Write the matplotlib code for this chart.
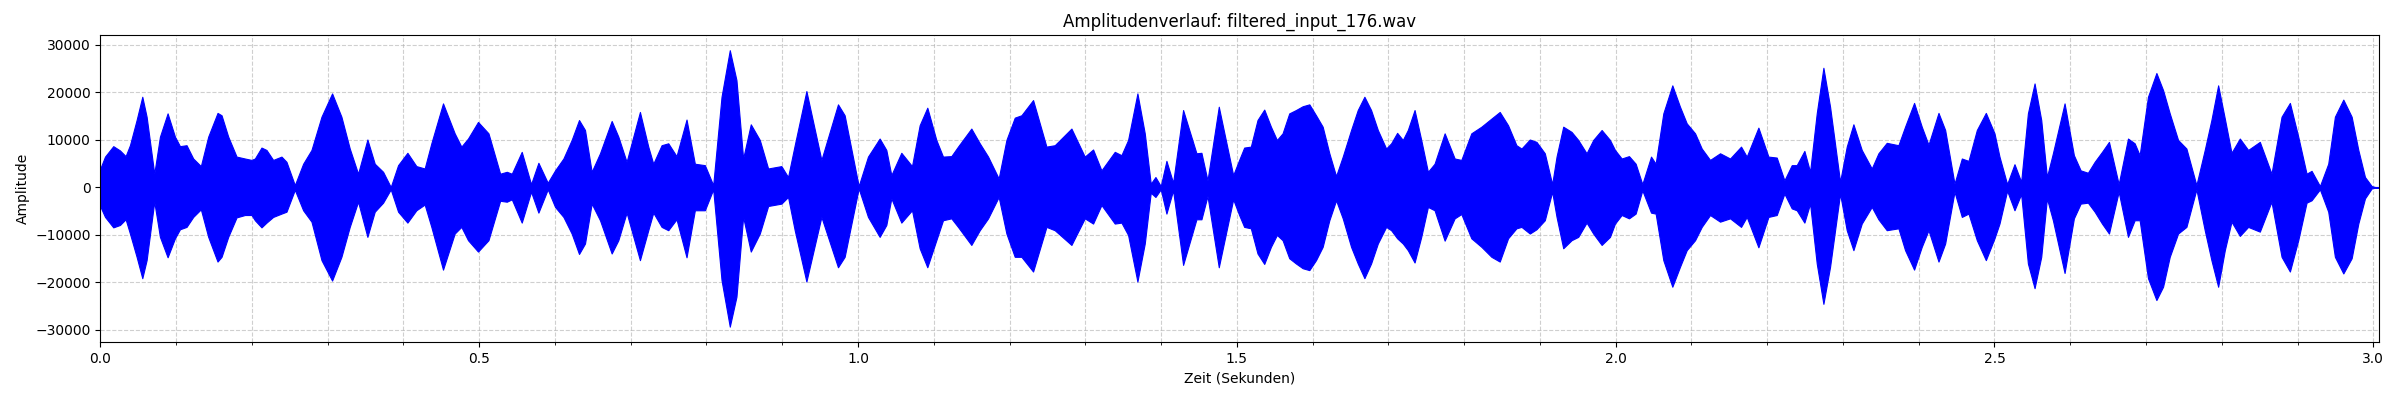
import matplotlib
matplotlib.use("Agg")
import matplotlib.pyplot as plt
from matplotlib.ticker import MultipleLocator

# Envelope of the waveform (time in seconds, amplitude)
time_s = [
    0.0000, 0.0062, 0.0171, 0.0259, 0.0334, 0.0391, 0.0479, 0.0554, 0.0611, 0.0712,
    0.0787, 0.0888, 0.0985, 0.1051, 0.1138, 0.1226, 0.1327, 0.1424, 0.1547, 0.1600,
    0.1688, 0.1798, 0.1908, 0.1996, 0.2040, 0.2127, 0.2193, 0.2281, 0.2391, 0.2457,
    0.2567, 0.2677, 0.2787, 0.2919, 0.3059, 0.3182, 0.3292, 0.3402, 0.3525, 0.3622,
    0.3732, 0.3833, 0.3930, 0.4053, 0.4171, 0.4281, 0.4369, 0.4523, 0.4677, 0.4765,
    0.4853, 0.4985,
    0.5123, 0.5277, 0.5365, 0.5431, 0.5562, 0.5685, 0.5782, 0.5905, 0.6002, 0.6112,
    0.6221, 0.6318, 0.6397, 0.6485, 0.6595, 0.6749, 0.6837, 0.6946, 0.7122, 0.7232,
    0.7298, 0.7408, 0.7496, 0.7605, 0.7737, 0.7847, 0.7979, 0.8089, 0.8199, 0.8308,
    0.8396, 0.8484, 0.8585, 0.8704, 0.8814, 0.8989, 0.9077, 0.9165, 0.9319, 0.9517,
    0.9736, 0.9824,
    1.0009, 1.0132, 1.0286, 1.0374, 1.0440, 1.0572, 1.0713, 1.0814, 1.0915, 1.1034,
    1.1122, 1.1232, 1.1320, 1.1496, 1.1607, 1.1717, 1.1857, 1.1959, 1.2069, 1.2157,
    1.2311, 1.2487, 1.2597, 1.2817, 1.2993, 1.3103, 1.3213, 1.3389, 1.3477, 1.3565,
    1.3688, 1.3785, 1.3864, 1.3926, 1.3996, 1.4071, 1.4159, 1.4291, 1.4467, 1.4533,
    1.4613, 1.4762, 1.4952,
    1.5031, 1.5097, 1.5185, 1.5273, 1.5362, 1.5450, 1.5529, 1.5604, 1.5692, 1.5780,
    1.5869, 1.5957, 1.6045, 1.6133, 1.6221, 1.6310, 1.6398, 1.6508, 1.6596, 1.6684,
    1.6772, 1.6861, 1.6971, 1.7037, 1.7116, 1.7191, 1.7257, 1.7346, 1.7434, 1.7522,
    1.7610, 1.7743, 1.7875, 1.7963, 1.8095, 1.8228, 1.8360, 1.8470, 1.8580, 1.8690,
    1.8757, 1.8867, 1.8955, 1.9065, 1.9162, 1.9220, 1.9308, 1.9418, 1.9506, 1.9616,
    1.9704, 1.9815, 1.9925,
    1.9991, 2.0079, 2.0176, 2.0264, 2.0352, 2.0467, 2.0528, 2.0629, 2.0748, 2.0849,
    2.0938, 2.1048, 2.1136, 2.1246, 2.1378, 2.1510, 2.1655, 2.1730, 2.1884, 2.2016,
    2.2126, 2.2227, 2.2324, 2.2390, 2.2491, 2.2566, 2.2654, 2.2742, 2.2830, 2.2962,
    2.3050, 2.3138, 2.3248, 2.3380, 2.3468, 2.3578, 2.3732, 2.3820, 2.3939, 2.4040,
    2.4129, 2.4261, 2.4349, 2.4472, 2.4569, 2.4657, 2.4767, 2.4886,
    2.5000, 2.5066, 2.5167, 2.5264, 2.5352, 2.5441, 2.5529, 2.5617, 2.5692, 2.5771,
    2.5925, 2.6048, 2.6137, 2.6233, 2.6322, 2.6419, 2.6511, 2.6639, 2.6762, 2.6850,
    2.6916, 2.7026, 2.7137, 2.7225, 2.7313, 2.7423, 2.7533, 2.7665, 2.7775, 2.7863,
    2.7952, 2.8040, 2.8128, 2.8238, 2.8348, 2.8502, 2.8656, 2.8789, 2.8899, 2.9009,
    2.9119, 2.9185, 2.9295, 2.9405, 2.9493, 2.9604, 2.9714, 2.9802, 2.9890, 2.9978,
    3.0044, 3.0075,
]

upper = [
    4000, 6500, 8700, 7800, 6600, 8900, 14200, 19100, 14900, 2900,
    10700, 15600, 10700, 8700, 8900, 6100, 4500, 10700, 15700, 15200,
    10700, 6500, 6100, 5800, 6100, 8400, 7900, 5800, 6500, 5400,
    500, 5000, 7900, 14900, 19800, 14900, 8200, 2900, 10100, 5000,
    3300, 100, 4700, 7300, 4500, 4000, 9300, 17700, 11400, 8600,
    10300, 13800,
    11400, 2900, 3300, 2900, 7500, 700, 5200, 1000, 3600, 6100,
    10000, 14200, 12100, 3300, 7200, 14000, 10700, 5400, 15900, 8600,
    5000, 8900, 9300, 6600, 14300, 5000, 4700, 500, 19100, 28900,
    22600, 6100, 13300, 10000, 4000, 4500, 2200, 8900, 20300, 5800,
    17500, 15200,
    300, 6500, 10300, 7900, 2600, 7300, 4500, 13100, 16800, 10000,
    6500, 6600, 8600, 12400, 9300, 6500, 1900, 10000, 14700, 15200,
    18400, 8600, 8900, 12400, 6500, 8000, 3600, 7500, 6800, 10000,
    19800, 11400, 800, 2200, 300, 5600, 1000, 16300, 7200, 7300,
    1500, 17000, 2600,
    5800, 8400, 8600, 14200, 16400, 12800, 10000, 11400, 15600, 16300,
    17100, 17500, 15200, 12800, 7200, 2400, 6500, 12100, 16300, 19100,
    16300, 12100, 8200, 9300, 11500, 10000, 12100, 16300, 10000, 3300,
    5000, 11400, 6100, 5800, 11400, 12800, 14500, 15900, 13100, 8900,
    8200, 10100, 9600, 7200, 700, 6500, 12800, 11700, 10000, 7200,
    10000, 12100, 10000,
    7900, 6100, 6600, 5000, 700, 6500, 5000, 15600, 21500, 17000,
    13500, 11400, 8200, 5800, 7200, 6100, 8600, 6500, 12600, 6500,
    6300, 1500, 4700, 4700, 7700, 3300, 15600, 25200, 17000, 1200,
    8600, 13300, 7900, 4000, 7200, 9400, 8900, 12800, 17800, 12800,
    9000, 15700, 12100, 800, 6100, 5600, 12100, 15700,
    11400, 6500, 700, 4900, 1200, 15600, 21900, 14200, 2200, 7200,
    17700, 6800, 3600, 3100, 5400, 7500, 9600, 700, 10300, 9300,
    6800, 19100, 24100, 20500, 15600, 10000, 8200, 500, 7900, 14200,
    21500, 14500, 7300, 10300, 7900, 9600, 2900, 14900, 17800, 10700,
    2900, 3500, 300, 5000, 14900, 18500, 14900, 7900, 2200, 300,
    0, 0,
]

lower = [
    -4000, -6200, -8400, -7900, -6700, -9700, -14600, -19100, -15300, -3000,
    -10400, -14700, -10700, -8800, -8300, -6200, -4600, -10400, -15600, -14600,
    -10400, -6300, -5800, -5800, -6900, -8400, -7400, -6200, -5500, -5100,
    -500, -4800, -7200, -15300, -19600, -14600, -8300, -3000, -10400, -5100,
    -3200, -400, -5100, -7400, -4800, -3600, -8300, -17300, -9700, -8300,
    -11100, -13500,
    -11100, -2800, -3000, -2500, -7400, -900, -5300, -400, -4100, -6200,
    -9700, -14000, -11800, -3400, -6900, -13900, -11100, -5300, -15300, -9000,
    -5300, -8300, -9000, -6700, -14700, -4800, -4800, -400, -19500, -29300,
    -23000, -6200, -13500, -9700, -3900, -3400, -2000, -9000, -19800, -6200,
    -16800, -14600,
    -200, -6200, -10400, -7900, -2300, -7400, -4800, -12800, -16800, -11100,
    -6900, -6500, -8300, -12100, -9000, -6500, -2000, -9700, -14600, -14600,
    -17700, -8300, -9000, -12100, -6500, -7600, -3700, -7600, -7400, -10000,
    -19800, -11800, -1100, -2000, -400, -5500, -600, -16300, -6700, -6700,
    -1800, -16800, -2500,
    -5800, -8300, -8600, -13900, -16100, -12500, -10000, -11100, -14900, -16000,
    -17000, -17400, -15300, -12500, -6900, -2700, -6500, -12500, -16000, -19100,
    -16000, -11800, -8300, -9000, -10700, -11800, -13200, -15800, -10400, -4100,
    -4800, -11200, -6500, -5600, -10700, -12500, -14600, -15600, -10700, -8600,
    -8300, -9700, -8800, -6900, -900, -6200, -12800, -11100, -10400, -7400,
    -9700, -12100, -10400,
    -7600, -5800, -6500, -5500, -600, -5300, -5500, -15300, -20900, -16700,
    -13200, -11100, -8300, -5800, -7200, -6500, -8300, -6200, -12600, -6200,
    -5800, -1300, -4400, -4800, -7400, -3400, -16000, -24500, -16700, -1300,
    -9000, -13200, -7600, -4100, -6700, -9000, -8600, -13200, -17300, -12500,
    -9000, -15600, -11800, -900, -6200, -5500, -11100, -15300,
    -10700, -7600, -700, -4800, -1400, -16000, -21200, -14600, -2300, -6900,
    -18000, -6500, -3400, -3200, -5100, -7600, -9700, -900, -10400, -6900,
    -6900, -19100, -23700, -20900, -14600, -9700, -8300, -400, -9000, -15300,
    -20900, -13200, -7200, -10200, -8300, -9300, -3000, -14600, -17700, -11100,
    -3200, -2700, -400, -5100, -14600, -18100, -14900, -7600, -2300, -200,
    0, 0,
]

title = "Amplitudenverlauf: filtered_input_176.wav"
x_label = "Zeit (Sekunden)"
y_label = "Amplitude"

fig = plt.figure(figsize=(24, 4), dpi=100)
ax = fig.add_axes([0.0418, 0.1443, 0.99125 - 0.0418, 0.9125 - 0.1443])

ax.fill_between(time_s, lower, upper, color="#0000ff", linewidth=0.8,
                edgecolor="#0000ff")
ax.plot(time_s, [0] * len(time_s), color="#0000ff", linewidth=0.8)

ax.set_xlim(0, 3.0075)
ax.set_ylim(-32590, 32100)
ax.xaxis.set_major_locator(MultipleLocator(0.5))
ax.xaxis.set_minor_locator(MultipleLocator(0.1))
ax.yaxis.set_major_locator(MultipleLocator(10000))
ax.grid(True, which="both", linestyle="--", alpha=0.6)
ax.set_axisbelow(True)

ax.set_title(title)
ax.set_xlabel(x_label)
ax.set_ylabel(y_label)

fig.savefig("out.png", dpi=100)
